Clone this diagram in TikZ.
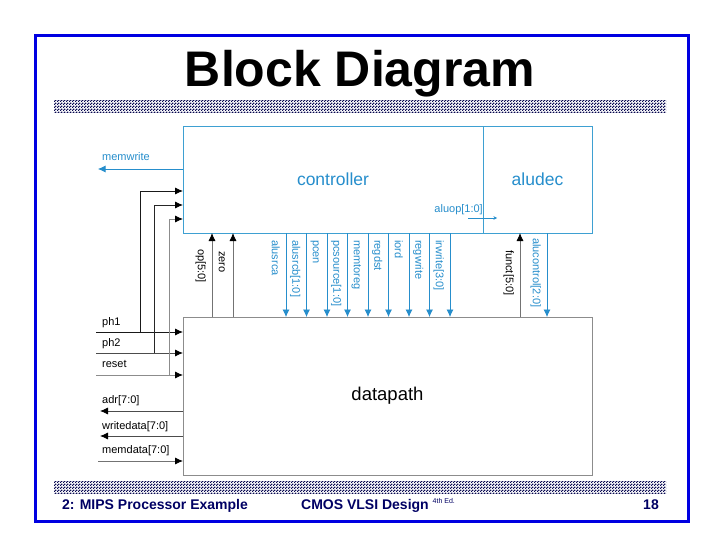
\documentclass[tikz,border=0pt]{standalone}
\usepackage{fontspec}
\setmainfont{Liberation Sans}
\usetikzlibrary{positioning,arrows.meta,patterns}
\definecolor{sigblue}{RGB}{38,142,204}
\definecolor{boxblue}{RGB}{62,160,210}
\definecolor{dpgrey}{RGB}{140,140,140}
\definecolor{framebl}{RGB}{0,0,225}
\definecolor{bandnavy}{RGB}{8,8,80}
\definecolor{navytext}{RGB}{0,0,100}
\pgfdeclarepatternformonly{finechecker}{\pgfpointorigin}{\pgfqpoint{3pt}{3pt}}{\pgfqpoint{3pt}{3pt}}{
    \pgfpathrectangle{\pgfpointorigin}{\pgfqpoint{1.6pt}{1.6pt}}
    \pgfpathrectangle{\pgfqpoint{1.5pt}{1.5pt}}{\pgfqpoint{1.6pt}{1.6pt}}
    \pgfusepath{fill}
}
\tikzset{
    block/.style={
        draw=boxblue,
        line width=0.9pt,
        fill=white,
        inner sep=0pt,
        outer sep=0pt,
        text=sigblue,
        font=\fontsize{17.5}{20}\selectfont
    },
    dpblock/.style={
        draw=dpgrey,
        line width=0.9pt,
        fill=white,
        inner sep=0pt,
        outer sep=0pt,
        font=\fontsize{18.5}{20}\selectfont
    },
    siglabel/.style={
        inner sep=0pt,
        font=\fontsize{11}{13}\selectfont
    },
    vlabel/.style={
        siglabel,
        rotate=-90,
        anchor=mid west
    },
    bluesig/.style={draw=sigblue, line width=0.7pt, -{Latex[length=7.5pt,width=7pt]}},
    blacksig/.style={draw=black!70, line width=0.8pt, -{Latex[length=8pt,width=7pt,color=black]}},
    band/.style={pattern=finechecker, pattern color=bandnavy, draw=none},
    footer/.style={inner sep=0pt, text=navytext, font=\fontsize{14}{16}\selectfont\bfseries}
}

\begin{document}
\begin{tikzpicture}[x=1pt,y=-1pt,>=Latex]

\useasboundingbox[fill=white] (0,0) rectangle (720,540);

% Slide frame and bands
\draw[framebl, line width=3pt] (35.5,35.5) rectangle (688.5,521.5);
\fill[band] (54,101) rectangle (666,113);
\fill[band] (54,481) rectangle (666,493);

\node[inner sep=0pt, font=\fontsize{50}{56}\selectfont\bfseries, anchor=base] (title) at (360,87)
{Block Diagram};

% Blocks
\node[block, minimum width=300pt, minimum height=107pt, anchor=north west] (ctrl) at (183,126)
{controller};
\node[block, minimum width=109pt, minimum height=107pt, anchor=north west] (aludec) at (483,126)
{aludec};
\node[dpblock, minimum width=409pt, minimum height=158pt, anchor=north west] (dp) at (183,317)
{datapath};

% Left side signals
\coordinate (memwriteout) at (98,169);
\coordinate (ph1in) at (96,332);
\coordinate (ph1tap) at (140,332);
\coordinate (ph2in) at (96,353);
\coordinate (ph2tap) at (154,353);
\coordinate (resetin) at (96,375);
\coordinate (resettap) at (169,375);
\coordinate (adrout) at (100,411);
\coordinate (wdout) at (100,436);
\coordinate (mdin) at (98,461);

\node[siglabel, text=sigblue, anchor=mid west] (memwrite) at (102,158) {memwrite};
\node[siglabel, anchor=mid west] (ph1) at (102,323) {ph1};
\node[siglabel, anchor=mid west] (ph2) at (102,344) {ph2};
\node[siglabel, anchor=mid west] (reset) at (102,365) {reset};
\node[siglabel, anchor=mid west] (adr) at (102,401) {adr[7:0]};
\node[siglabel, anchor=mid west] (writedata) at (102,427) {writedata[7:0]};
\node[siglabel, anchor=mid west] (memdata) at (102,451) {memdata[7:0]};

\draw[bluesig] (ctrl.west |- memwriteout) -- (memwriteout);
\draw[blacksig, draw=black!90] (ph1in) -- (dp.west |- ph1in);
\draw[blacksig, draw=black!90] (ph1tap) |- (ctrl.west |- 0,191);
\draw[blacksig] (ph2in) -- (dp.west |- ph2in);
\draw[blacksig, draw=black!85] (ph2tap) |- (ctrl.west |- 0,205);
\draw[blacksig, draw=black!45] (resetin) -- (dp.west |- resetin);
\draw[blacksig, draw=black!45] (resettap) |- (ctrl.west |- 0,219);
\draw[blacksig] (dp.west |- adrout) -- (adrout);
\draw[blacksig] (dp.west |- wdout) -- (wdout);
\draw[blacksig, draw=black!55] (mdin) -- (dp.west |- mdin);

% Controller to datapath
\draw[bluesig] (ctrl.south -| 286,0) -- (dp.north -| 286,0);
\draw[bluesig] (ctrl.south -| 306.5,0) -- (dp.north -| 306.5,0);
\draw[bluesig] (ctrl.south -| 327,0) -- (dp.north -| 327,0);
\draw[bluesig] (ctrl.south -| 347.5,0) -- (dp.north -| 347.5,0);
\draw[bluesig] (ctrl.south -| 368,0) -- (dp.north -| 368,0);
\draw[bluesig] (ctrl.south -| 388.5,0) -- (dp.north -| 388.5,0);
\draw[bluesig] (ctrl.south -| 409,0) -- (dp.north -| 409,0);
\draw[bluesig] (ctrl.south -| 429.5,0) -- (dp.north -| 429.5,0);
\draw[bluesig] (ctrl.south -| 450,0) -- (dp.north -| 450,0);
\draw[bluesig] (aludec.south -| 547,0) -- (dp.north -| 547,0);

\node[vlabel, text=sigblue] (alusrca) at (274.5,240) {alusrca};
\node[vlabel, text=sigblue] (alusrcb) at (295,240) {alusrcb[1:0]};
\node[vlabel, text=sigblue] (pcen) at (315.5,240) {pcen};
\node[vlabel, text=sigblue] (pcsource) at (336,240) {pcsource[1:0]};
\node[vlabel, text=sigblue] (memtoreg) at (356.5,240) {memtoreg};
\node[vlabel, text=sigblue] (regdst) at (377,240) {regdst};
\node[vlabel, text=sigblue] (iord) at (397.5,240) {iord};
\node[vlabel, text=sigblue] (regwrite) at (418,240) {regwrite};
\node[vlabel, text=sigblue] (irwrite) at (438.5,240) {irwrite[3:0]};
\node[vlabel, text=sigblue] (alucontrol) at (535.5,238) {alucontrol[2:0]};

% Datapath to controller
\draw[blacksig, draw=black!55] (dp.north -| 212,0) -- (ctrl.south -| 212,0);
\draw[blacksig, draw=black!55] (dp.north -| 233,0) -- (ctrl.south -| 233,0);
\draw[blacksig, draw=black!55] (dp.north -| 520,0) -- (aludec.south -| 520,0);

\node[vlabel] (op) at (200.5,249) {op[5:0]};
\node[vlabel] (zero) at (221.5,251) {zero};
\node[vlabel] (funct) at (508.5,250) {funct[5:0]};

% aluop
\coordinate (aluopsrc) at (468,218);
\coordinate (aluopdst) at (497,218);
\node[siglabel, text=sigblue, anchor=mid east] (aluop) at (483,210) {aluop[1:0]};
\draw[draw=sigblue, line width=0.6pt, -{Stealth[length=3.5pt,width=3.5pt]}] (aluopsrc) -- (aluopdst);

% Footer
\node[footer, anchor=base west] (chapter) at (62,509) {2: MIPS Processor Example};
\node[footer, anchor=base west] (book) at (301,509)
{CMOS VLSI Design \raisebox{5.5pt}{\fontsize{7}{8}\selectfont\mdseries 4th Ed.}};
\node[footer, anchor=base east] (page) at (659,509) {18};

\end{tikzpicture}
\end{document}
